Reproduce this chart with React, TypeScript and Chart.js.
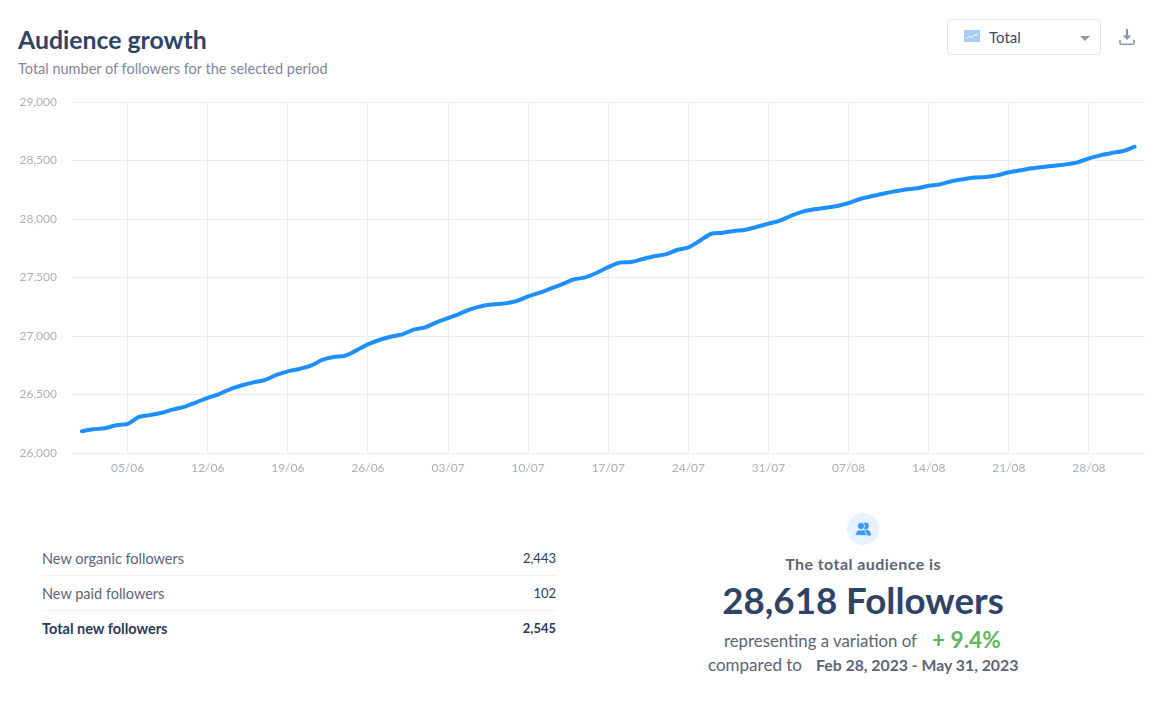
import React, { useEffect, useRef } from "react";
import { Chart, registerables } from "chart.js";

Chart.register(...registerables);

const followers = [
  26186, 26203, 26211, 26237, 26248, 26308, 26325, 26344, 26373, 26396,
  26433, 26472, 26504, 26547, 26579, 26604, 26624, 26667, 26698, 26718,
  26746, 26795, 26820, 26831, 26877, 26929, 26966, 26994, 27014, 27054,
  27074, 27117, 27153, 27190, 27230, 27257, 27271, 27279, 27299, 27339,
  27370, 27407, 27444, 27484, 27501, 27541, 27589, 27627, 27633, 27658,
  27681, 27698, 27735, 27758, 27814, 27874, 27883, 27897, 27908, 27934,
  27960, 27986, 28029, 28063, 28083, 28097, 28111, 28137, 28171, 28194,
  28216, 28236, 28253, 28262, 28284, 28296, 28323, 28340, 28354, 28359,
  28374, 28399, 28416, 28433, 28445, 28456, 28467, 28484, 28518, 28544,
  28564, 28581, 28618,
];
const tickIndexes = [4, 11, 18, 25, 32, 39, 46, 53, 60, 67, 74, 81, 88];
const tickLabels = ["05/06", "12/06", "19/06", "26/06", "03/07", "10/07", "17/07", "24/07", "31/07", "07/08", "14/08", "21/08", "28/08"];
const yTicks = [26000, 26500, 27000, 27500, 28000, 28500, 29000];
const tableRows = [
  { label: "New organic followers", value: "2,443" },
  { label: "New paid followers", value: "102" },
  { label: "Total new followers", value: "2,545" },
];

const FONT = "Lato, 'Open Sans', sans-serif";

const abs = (s: React.CSSProperties): React.CSSProperties => ({ position: "absolute", whiteSpace: "nowrap", ...s });

export default function App() {
  const ref = useRef<HTMLCanvasElement>(null);
  useEffect(() => {
    document.body.style.margin = "0";
    const chart = new Chart(ref.current!, {
      type: "line",
      data: {
        datasets: [
          {
            data: followers.map((y, x) => ({ x, y })),
            borderColor: "#1e8fff",
            borderWidth: 4,
            pointRadius: 0,
            tension: 0.3,
            borderCapStyle: "round",
            fill: false,
          },
        ],
      },
      options: {
        animation: false,
        responsive: false,
        maintainAspectRatio: false,
        layout: { autoPadding: false, padding: { top: 23, left: 0, right: 0, bottom: 0 } },
        plugins: { legend: { display: false }, tooltip: { enabled: false } },
        scales: {
          x: {
            type: "linear",
            min: -0.86,
            max: 92.9,
            afterBuildTicks: (axis: any) => {
              axis.ticks = tickIndexes.map((value) => ({ value }));
            },
            afterFit: (axis: any) => {
              axis.height = 30;
            },
            grid: { color: "#ebecef", lineWidth: 1, drawTicks: false },
            border: { display: false },
            ticks: {
              autoSkip: false,
              maxRotation: 0,
              padding: 8,
              color: "#a9afbd",
              font: { family: FONT, size: 12 },
              callback: (v: any) => tickLabels[tickIndexes.indexOf(Number(v))] ?? "",
            },
          },
          y: {
            min: 26000,
            max: 29000,
            afterBuildTicks: (axis: any) => {
              axis.ticks = yTicks.map((value) => ({ value }));
            },
            afterFit: (axis: any) => {
              axis.width = 72;
            },
            grid: { color: "#ebecef", lineWidth: 1, drawTicks: false },
            border: { display: false },
            ticks: {
              padding: 15,
              color: "#a9afbd",
              font: { family: FONT, size: 12 },
              callback: (v: any) => Number(v).toLocaleString("en-US"),
            },
          },
        },
      },
    } as any);
    return () => chart.destroy();
  }, []);

  return (
    <div style={{ position: "relative", width: 1164, height: 710, fontFamily: FONT, background: "#fff", overflow: "hidden" }}>
      <canvas ref={ref} width={1145} height={404} style={{ position: "absolute", left: 0, top: 79, width: 1145, height: 404 }} />

      <div style={abs({ left: 18, top: 25, fontSize: 24.8, lineHeight: "30px", fontWeight: 700, color: "#2f4368" })}>Audience growth</div>
      <div style={abs({ left: 18, top: 60, fontSize: 14.5, lineHeight: "18px", color: "#808799" })}>Total number of followers for the selected period</div>

      <div style={abs({ left: 947, top: 19, width: 152, height: 34, border: "1px solid #e3e5ec", borderRadius: 4 })} />
      <svg style={{ position: "absolute", left: 964, top: 30 }} width="16" height="12" viewBox="0 0 16 12">
        <rect width="16" height="12" fill="#a4cdf3" />
        <path d="M2.5 9 L5.5 6 L7.5 8 L10.5 4.5 L12 6 L14 3" stroke="#fff" strokeWidth="1" fill="none" />
      </svg>
      <div style={abs({ left: 989, top: 28, fontSize: 15, lineHeight: "18px", color: "#3b4a6b" })}>Total</div>
      <svg style={{ position: "absolute", left: 1080, top: 36 }} width="10" height="5" viewBox="0 0 10 5">
        <path d="M0 0 H10 L5 5 Z" fill="#999" />
      </svg>
      <svg style={{ position: "absolute", left: 1118, top: 28 }} width="18" height="18" viewBox="0 0 18 18">
        <path d="M9 1 V10" stroke="#8c93a6" strokeWidth="2.2" fill="none" />
        <path d="M4.8 7.5 H13.2 L9 12 Z" fill="#8c93a6" />
        <path d="M2 12 V15 Q2 16.2 3.2 16.2 H14.8 Q16 16.2 16 15 V12" stroke="#8c93a6" strokeWidth="1.6" fill="none" />
      </svg>

      {tableRows.map((r, i) => (
        <div
          key={r.label}
          style={abs({
            left: 42,
            width: 514,
            top: 542 + i * 35,
            height: 33,
            lineHeight: "33px",
            fontSize: 14.5,
            display: "flex",
            justifyContent: "space-between",
            borderBottom: i < 2 ? "1px solid #f1f2f5" : "none",
            fontWeight: i === 2 ? 700 : 400,
            color: i === 2 ? "#2c3a5a" : "#5b6478",
          })}
        >
          <span>{r.label}</span>
          <span style={{ color: "#2c3a5a", fontSize: 13 }}>{r.value}</span>
        </div>
      ))}

      <div style={abs({ left: 847, top: 513, width: 32, height: 32, borderRadius: "50%", background: "#e6f2ff" })} />
      <svg style={{ position: "absolute", left: 855, top: 522 }} width="16" height="15" viewBox="0 0 16 15">
        <circle cx="10.5" cy="4" r="3.4" fill="#3d9bf7" />
        <path d="M9 8 H13 Q16 9 16 13.5 H11 Z" fill="#3d9bf7" />
        <circle cx="6" cy="4" r="3.6" fill="#3d9bf7" stroke="#e6f2ff" strokeWidth="0.8" />
        <path d="M3.5 8 H8.5 Q11.5 9 11.5 13.5 H0.5 Q0.5 9 3.5 8 Z" fill="#3d9bf7" stroke="#e6f2ff" strokeWidth="0.8" />
      </svg>
      <div style={abs({ left: 663, width: 400, textAlign: "center", top: 555, fontSize: 16, letterSpacing: 0.43, lineHeight: "18px", fontWeight: 700, color: "#5b6478" })}>The total audience is</div>
      <div style={abs({ left: 663, width: 400, textAlign: "center", top: 577, fontSize: 36.7, lineHeight: "46px", fontWeight: 700, color: "#2f4368" })}>28,618 Followers</div>
      <div style={abs({ left: 724, top: 631, fontSize: 16.8, lineHeight: "19px", color: "#5b6478" })}>representing a variation of</div>
      <div style={abs({ left: 932, top: 627, fontSize: 22.6, lineHeight: "25px", fontWeight: 700, color: "#5cb85c" })}>+ 9.4%</div>
      <div style={abs({ left: 708, top: 655, fontSize: 17, lineHeight: "19px", color: "#5b6478" })}>compared to</div>
      <div style={abs({ left: 816, top: 655, fontSize: 15.8, lineHeight: "19px", fontWeight: 700, color: "#5b6478" })}>Feb 28, 2023 - May 31, 2023</div>
    </div>
  );
}
